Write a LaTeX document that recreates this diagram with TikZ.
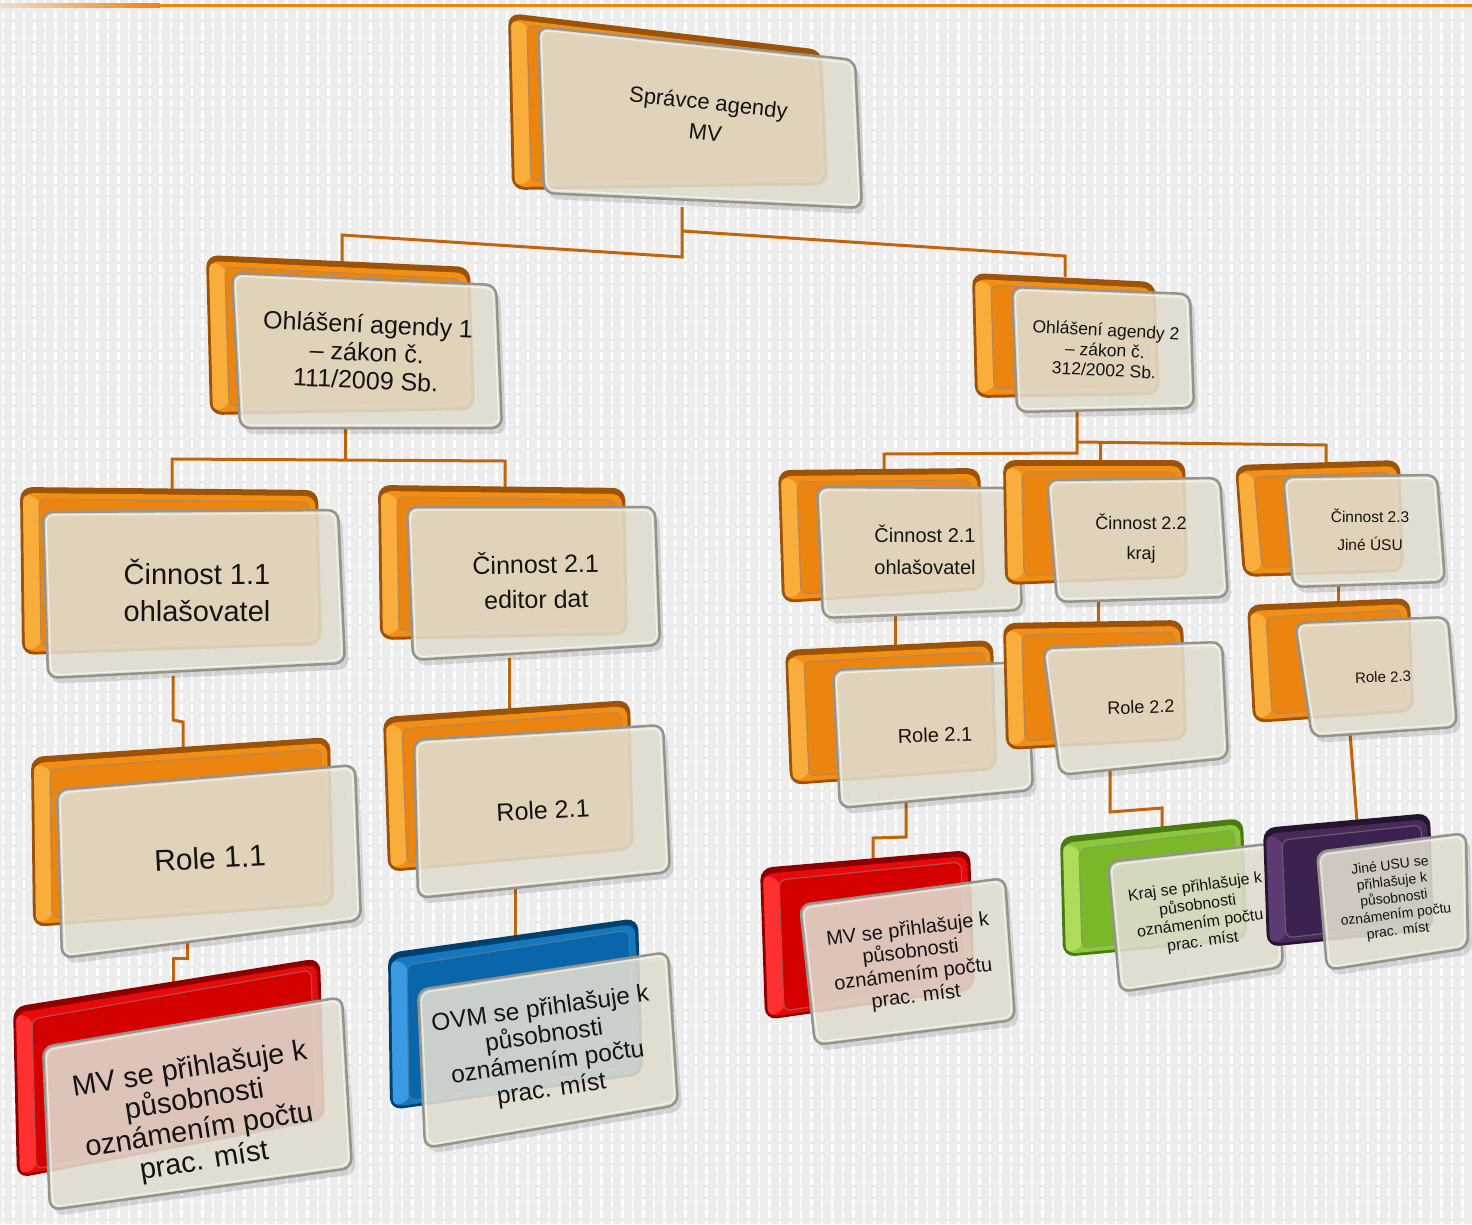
\documentclass[tikz,border=0pt]{standalone}
\usepackage{fontspec}
\setmainfont{Liberation Sans}
\usetikzlibrary{calc}
\definecolor{bgc}{HTML}{EDEDED}
\definecolor{topc}{HTML}{F0820E}
\definecolor{connc}{HTML}{C0650C}
\definecolor{frontc}{HTML}{E4E0D2}
\definecolor{framec}{HTML}{94948C}
\definecolor{textc}{HTML}{141414}
\definecolor{orarim}{HTML}{9C5207}
\definecolor{oramain}{HTML}{F28E14}
\definecolor{oralight}{HTML}{F9AE3C}
\definecolor{orarec}{HTML}{EC8410}
\definecolor{redrim}{HTML}{8E0000}
\definecolor{redmain}{HTML}{E80A0A}
\definecolor{redlight}{HTML}{FF3030}
\definecolor{redrec}{HTML}{D40000}
\definecolor{blurim}{HTML}{00406E}
\definecolor{blumain}{HTML}{1478C0}
\definecolor{blulight}{HTML}{3A9BE2}
\definecolor{blurec}{HTML}{0A66AA}
\definecolor{grnrim}{HTML}{4A7A12}
\definecolor{grnmain}{HTML}{8CC63A}
\definecolor{grnlight}{HTML}{AEDC5A}
\definecolor{grnrec}{HTML}{7AB82A}
\definecolor{purrim}{HTML}{24142E}
\definecolor{purmain}{HTML}{47295A}
\definecolor{purlight}{HTML}{5C3A72}
\definecolor{purrec}{HTML}{3C2250}
\tikzset{
  conn/.style={draw=connc, line width=3pt},
  frontbox/.style={fill=frontc, fill opacity=0.88, draw=framec, line width=2.5pt, rounded corners=10pt},
  lbl/.style={align=center, text=textc, inner sep=0pt},
}
% #1 colour prefix, #2-#5 back corners TL TR BR BL, #6-#9 front corners TL TR BR BL
\newcommand\tdbox[9]{%
  \fill[#1rim, rounded corners=12pt] (#2)--(#3)--(#4)--(#5)--cycle;
  \fill[#1main, rounded corners=10pt] ($(#2)+(3,6)$)--($(#3)+(-3,6)$)--($(#4)+(-3,-3)$)--($(#5)+(3,-3)$)--cycle;
  \fill[#1light, rounded corners=8pt] ($(#2)+(3,6)$)--($(#2)+(20,12)$)--($(#5)+(20,-10)$)--($(#5)+(3,-3)$)--cycle;
  \filldraw[fill=#1rec, draw=#1rim!70, line width=1.2pt, rounded corners=7pt] ($(#2)+(19,12)$)--($(#3)+(-9,12)$)--($(#4)+(-9,-9)$)--($(#5)+(19,-9)$)--cycle;
  \fill[black, opacity=0.12, rounded corners=10pt] ($(#6)+(4,6)$)--($(#7)+(4,6)$)--($(#8)+(4,6)$)--($(#9)+(4,6)$)--cycle;
  \filldraw[frontbox] (#6)--(#7)--(#8)--(#9)--cycle;
  \draw[white, opacity=0.6, line width=1.2pt, rounded corners=8pt] ($(#6)+(3,3)$)--($(#7)+(-3,3)$)--($(#8)+(-3,-3)$)--($(#9)+(3,-3)$)--cycle;
}
\begin{document}
\begin{tikzpicture}[x=1pt,y=-1pt]
\useasboundingbox (0,0) rectangle (1472,1224);
\fill[bgc] (0,0) rectangle (1472,1224);
\foreach \x in {3,13.5,...,1472} \draw[white, line width=2.2pt, dash pattern=on 8pt off 3pt] (\x,0)--(\x,1224);
\shade[left color=topc!15!bgc, right color=topc] (0,3.5) rectangle (160,7);
\fill[topc] (160,3.5) rectangle (1472,7);

% connector coordinates
\coordinate (s-o) at (682,207);
\coordinate (s-j) at (682,257);
\coordinate (s-jr) at (682,231);
\coordinate (o1-c) at (342,235);
\coordinate (o1-i) at (342,262);
\coordinate (o2-c) at (1065,256);
\coordinate (o2-i) at (1065,277);
\coordinate (o1-o) at (345,428);
\coordinate (o1-j) at (345,459);
\coordinate (c11-c) at (172,459);
\coordinate (c11-i) at (172,489);
\coordinate (c21l-c) at (505,461);
\coordinate (c21l-i) at (505,488);
\coordinate (o2-o) at (1077,410);
\coordinate (o2-j) at (1077,453);
\coordinate (o2-jr) at (1077,442);
\coordinate (c21r-c) at (884,454);
\coordinate (c21r-i) at (884,472);
\coordinate (c22-c) at (1100,443);
\coordinate (c22-i) at (1100,463);
\coordinate (c23-c) at (1326,445);
\coordinate (c23-i) at (1326,464);
\coordinate (c11-o) at (173,676);
\coordinate (c11-a) at (173,720);
\coordinate (c11-b) at (183,722);
\coordinate (r11-i) at (183,747);
\coordinate (r11-o) at (187,942);
\coordinate (r11-a) at (187,958);
\coordinate (r11-b) at (173,958);
\coordinate (mvl-i) at (173,982);
\coordinate (c21l-o) at (509,658);
\coordinate (r21l-i) at (509,710);
\coordinate (r21l-o) at (515,886);
\coordinate (ovm-i) at (515,936);
\coordinate (c21r-o) at (895,615);
\coordinate (r21r-i) at (895,649);
\coordinate (c22-o) at (1098,599);
\coordinate (r22-i) at (1098,623);
\coordinate (c23-o) at (1338,586);
\coordinate (r23-i) at (1338,604);
\coordinate (r21r-o) at (906,801);
\coordinate (r21r-a) at (906,837);
\coordinate (r21r-b) at (873,838);
\coordinate (mvr-i) at (873,860);
\coordinate (r22-o) at (1110,770);
\coordinate (r22-a) at (1110,812);
\coordinate (r22-b) at (1162,808);
\coordinate (kraj-i) at (1162,828);
\coordinate (r23-o) at (1350,733);
\coordinate (jine-i) at (1357,821);

% connectors
\draw[conn] (s-o)--(s-j)--(o1-c)--(o1-i);
\draw[conn] (s-jr)--(o2-c)--(o2-i);
\draw[conn] (o1-o)--(o1-j);
\draw[conn] (c11-i)--(c11-c)--(c21l-c)--(c21l-i);
\draw[conn] (o2-o)--(o2-j)--(c21r-c)--(c21r-i);
\draw[conn] (o2-jr)--(c23-c)--(c23-i);
\draw[conn] (c22-c)--(c22-i);
\draw[conn] (c11-o)--(c11-a)--(c11-b)--(r11-i);
\draw[conn] (r11-o)--(r11-a)--(r11-b)--(mvl-i);
\draw[conn] (c21l-o)--(r21l-i);
\draw[conn] (r21l-o)--(ovm-i);
\draw[conn] (c21r-o)--(r21r-i);
\draw[conn] (c22-o)--(r22-i);
\draw[conn] (c23-o)--(r23-i);
\draw[conn] (r21r-o)--(r21r-a)--(r21r-b)--(mvr-i);
\draw[conn] (r22-o)--(r22-a)--(r22-b)--(kraj-i);
\draw[conn] (r23-o)--(jine-i);

% boxes
\tdbox{ora}{508,13}{822,50}{828,185}{512,190}{538,27}{855,60}{862,208}{544,193}
\tdbox{ora}{206,255}{470,267}{475,410}{210,415}{232,273}{496,285}{502,428}{240,428}
\tdbox{ora}{972,273}{1155,282}{1160,395}{975,398}{1012,287}{1190,294}{1194,408}{1017,412}
\tdbox{ora}{20,487}{318,490}{322,645}{22,655}{43,512}{338,510}{345,663}{48,678}
\tdbox{ora}{378,485}{625,488}{628,635}{380,640}{407,507}{655,507}{660,645}{413,660}
\tdbox{ora}{31,757}{330,737}{334,905}{33,927}{57,790}{355,765}{361,920}{62,958}
\tdbox{ora}{383,717}{630,700}{634,850}{388,872}{414,740}{663,725}{670,872}{418,898}
\tdbox{red}{13,1007}{320,958}{325,1120}{17,1178}{43,1047}{342,997}{352,1168}{50,1210}
\tdbox{blu}{388,953}{638,918}{643,1075}{390,1110}{418,990}{668,952}{678,1105}{425,1148}
\tdbox{ora}{778,470}{980,468}{985,590}{782,603}{817,487}{1017,488}{1022,610}{823,618}
\tdbox{ora}{1003,460}{1185,460}{1188,578}{1005,585}{1047,480}{1220,478}{1228,597}{1057,602}
\tdbox{ora}{1235,465}{1400,460}{1404,572}{1243,577}{1283,477}{1437,475}{1445,582}{1293,587}
\tdbox{ora}{785,650}{993,640}{997,770}{790,785}{833,670}{1027,662}{1033,790}{840,808}
\tdbox{ora}{1003,623}{1183,620}{1187,740}{1006,750}{1043,648}{1222,642}{1228,758}{1060,775}
\tdbox{ora}{1247,605}{1410,598}{1414,712}{1253,723}{1295,623}{1448,617}{1457,727}{1312,737}
\tdbox{red}{760,868}{970,850}{975,990}{765,1020}{800,905}{1005,878}{1015,1020}{815,1045}
\tdbox{grn}{1060,837}{1243,818}{1247,940}{1063,957}{1108,862}{1277,843}{1283,967}{1120,992}
\tdbox{pur}{1263,828}{1430,813}{1434,930}{1267,947}{1317,852}{1466,833}{1468,948}{1327,970}

% labels
\node[lbl, rotate=-6, font=\fontsize{22}{30}\selectfont] (s) at (707,117) {Správce agendy\\MV};
\node[lbl, rotate=-2.5, font=\fontsize{25}{28}\selectfont] (o1) at (367,352) {Ohlášení agendy 1\\– zákon č.\\111/2009 Sb.};
\node[lbl, rotate=-3, font=\fontsize{17.5}{20}\selectfont] (o2) at (1105,350) {Ohlášení agendy 2\\– zákon č.\\312/2002 Sb.};
\node[lbl, font=\fontsize{29}{37}\selectfont] (c11) at (197,590) {Činnost 1.1\\ohlašovatel};
\node[lbl, rotate=1, font=\fontsize{25}{35}\selectfont] (c21l) at (536,580) {Činnost 2.1\\editor dat};
\node[lbl, rotate=3, font=\fontsize{30}{30}\selectfont] (r11) at (210,858) {Role 1.1};
\node[lbl, rotate=3, font=\fontsize{25}{25}\selectfont] (r21l) at (543,810) {Role 2.1};
\node[lbl, rotate=9, font=\fontsize{29}{31}\selectfont] (mvl) at (197,1116) {MV se přihlašuje k\\působnosti\\oznámením počtu\\prac. míst};
\node[lbl, rotate=8, font=\fontsize{24.5}{27}\selectfont] (ovm) at (546,1050) {OVM se přihlašuje k\\působnosti\\oznámením počtu\\prac. míst};
\node[lbl, font=\fontsize{20}{32}\selectfont] (c21r) at (925,550) {Činnost 2.1\\ohlašovatel};
\node[lbl, font=\fontsize{18}{30}\selectfont] (c22) at (1141,538) {Činnost 2.2\\kraj};
\node[lbl, font=\fontsize{15.5}{28}\selectfont] (c23) at (1370,530) {Činnost 2.3\\Jiné ÚSU};
\node[lbl, rotate=2, font=\fontsize{20}{20}\selectfont] (r21r) at (935,735) {Role 2.1};
\node[lbl, rotate=2, font=\fontsize{18}{18}\selectfont] (r22) at (1141,707) {Role 2.2};
\node[lbl, rotate=2, font=\fontsize{15}{15}\selectfont] (r23) at (1383,677) {Role 2.3};
\node[lbl, rotate=7, font=\fontsize{20}{22.5}\selectfont] (mvr) at (912,964) {MV se přihlašuje k\\působnosti\\oznámením počtu\\prac. míst};
\node[lbl, rotate=8, font=\fontsize{16}{18.5}\selectfont] (kraj) at (1199,915) {Kraj se přihlašuje k\\působnosti\\oznámením počtu\\prac. míst};
\node[lbl, rotate=7, font=\fontsize{14}{16.5}\selectfont] (jine) at (1394,899) {Jiné USU se\\přihlašuje k\\působnosti\\oznámením počtu\\prac. míst};
\end{tikzpicture}
\end{document}
